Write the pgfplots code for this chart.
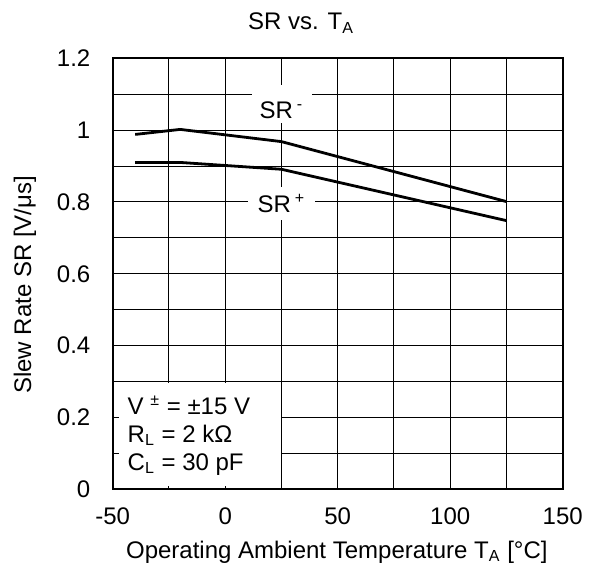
\documentclass[border=0pt]{standalone}
\usepackage{fontspec}
\setmainfont{Liberation Sans}
\usepackage{pgfplots}
\pgfplotsset{compat=1.18}
\usetikzlibrary{calc}
\newcommand{\lbl}{\fontsize{12}{14}\selectfont}
\begin{document}
\begin{tikzpicture}
\begin{axis}[
  scale only axis,
  width=225pt, height=215.5pt,
  axis on top=false,
  clip=false,
  xmin=-50, xmax=150, ymin=0, ymax=1.2,
  xtick={-50,0,50,100,150},
  minor xtick={-25,25,75,125},
  ytick={0,0.2,0.4,0.6,0.8,1,1.2},
  minor ytick={0.1,0.3,0.5,0.7,0.9,1.1},
  grid=both,
  major grid style={black, line width=0.5pt},
  minor grid style={black, line width=0.5pt},
  tick align=inside,
  major tick length=3pt, minor tick length=2pt,
  every tick/.style={black, line width=0.5pt},
  axis line style={black, line width=0.9pt},
  /pgf/number format/assume math mode=true,
  tick label style={font=\lbl},
  yticklabel style={inner sep=0pt, anchor=east, xshift=-11pt},
  xticklabel style={inner sep=0pt, anchor=north, yshift=-9.05pt},
]
% white boxes behind the texts
\fill[white] (axis cs:-49,0.006) rectangle (axis cs:24.6,0.297);
\fill[white] (axis cs:11.8,1.019) rectangle (axis cs:38.7,1.126);
\fill[white] (axis cs:10.3,0.75) rectangle (axis cs:40,0.842);
% tick stubs inside the condition box
\draw[black, line width=0.5pt] (axis cs:-50,0.1) -- ++(3pt,0pt);
\draw[black, line width=0.5pt] (axis cs:-50,0.2) -- ++(3pt,0pt);
\draw[black, line width=0.5pt] (axis cs:-25,0) -- ++(0pt,1.8pt);
\draw[black, line width=0.5pt] (axis cs:0,0) -- ++(0pt,1.8pt);

% SR-
\addplot[black, line width=1.4pt, line join=round, mark=none]
  coordinates {(-40,0.988)(-20,1.002)(25,0.968)(125,0.801)};
% SR+
\addplot[black, line width=1.4pt, line join=round, mark=none]
  coordinates {(-40,0.910)(-20,0.910)(25,0.891)(125,0.748)};

\node[font=\lbl] at (axis cs:25,1.055) {SR\,\textsuperscript{-}};
\node[font=\lbl] at (axis cs:25,0.796) {SR\,\textsuperscript{+}};
\node[font=\lbl, anchor=west, align=left, inner sep=0pt] at (axis cs:-43.5,0.15)
  {V\ \textsuperscript{±}\ = ±15 V\\R\textsubscript{L} = 2 kΩ\\C\textsubscript{L} = 30 pF};

\node[font=\lbl, anchor=base] at (rel axis cs:0.4184,1.0657) {SR vs. T\textsubscript{A}};
\node[font=\lbl, rotate=90] at (rel axis cs:-0.1949,0.474) {Slew Rate SR [V/μs]};
\node[font=\lbl, anchor=base] at (rel axis cs:0.498,-0.160) {Operating Ambient Temperature T\textsubscript{A} [°C]};
\end{axis}
\pgfresetboundingbox
\path ($(current axis.south west)+(-56.35pt,-42.85pt)$) rectangle ($(current axis.north east)+(15.65pt,29.15pt)$);
\end{tikzpicture}
\end{document}
